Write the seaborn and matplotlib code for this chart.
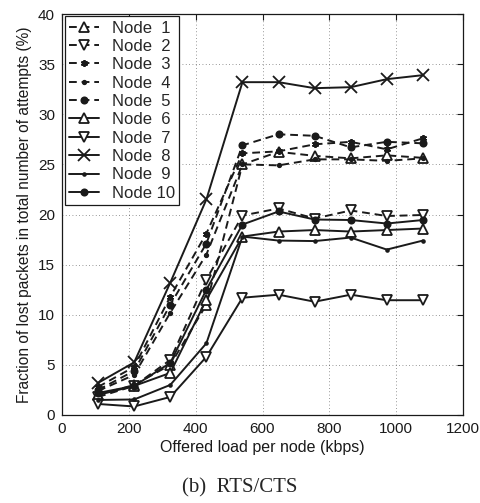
import matplotlib
matplotlib.use("Agg")
import matplotlib.pyplot as plt
import seaborn as sns
import pandas as pd

sns.set_theme(style="white")
plt.rcParams['font.family'] = ['Liberation Sans', 'DejaVu Sans']

load = [108, 216, 324, 432, 540, 648, 756, 864, 972, 1080]
node_names = ["Node  1", "Node  2", "Node  3", "Node  4", "Node  5",
              "Node  6", "Node  7", "Node  8", "Node  9", "Node 10"]
node1 = [2.0, 3.0, 5.0, 11.0, 25.0, 26.25, 25.85, 25.6, 25.9, 25.65]
node2 = [1.8, 2.9, 5.5, 13.5, 19.9, 20.6, 19.6, 20.4, 19.85, 19.95]
node3 = [2.8, 4.8, 11.8, 18.1, 26.1, 26.3, 27.0, 27.25, 26.5, 27.6]
node4 = [2.4, 4.0, 10.2, 16.0, 25.0, 24.9, 25.5, 25.5, 25.35, 25.6]
node5 = [2.5, 4.4, 11.0, 17.1, 26.9, 28.0, 27.85, 26.7, 27.25, 27.1]
node6 = [2.0, 2.9, 4.2, 11.5, 17.8, 18.3, 18.45, 18.3, 18.45, 18.6]
node7 = [1.1, 0.85, 1.8, 5.8, 11.7, 12.0, 11.3, 12.0, 11.45, 11.45]
node8 = [3.2, 5.25, 13.2, 21.5, 33.2, 33.2, 32.6, 32.7, 33.5, 33.9]
node9 = [1.5, 1.55, 3.0, 7.15, 17.8, 17.4, 17.35, 17.7, 16.5, 17.4]
node10 = [2.2, 2.9, 5.2, 12.5, 19.0, 20.3, 19.5, 19.45, 19.1, 19.45]
series = [node1, node2, node3, node4, node5, node6, node7, node8, node9, node10]

x_ticks = [0, 200, 400, 600, 800, 1000, 1200]
y_ticks = [0, 5, 10, 15, 20, 25, 30, 35, 40]

dash = (0, (4, 2.5))
styles = [
    dict(marker='^', ms=6.5, mfc='white', ls=dash),
    dict(marker='v', ms=6.5, mfc='white', ls=dash),
    dict(marker=(6, 2, 0), ms=5, mfc='k', ls=dash),
    dict(marker='.', ms=5, mfc='k', ls=dash),
    dict(marker='o', ms=4.5, mfc='k', ls=dash),
    dict(marker='^', ms=6.5, mfc='white', ls='-'),
    dict(marker='v', ms=6.5, mfc='white', ls='-'),
    dict(marker='x', ms=8, mfc='k', ls='-'),
    dict(marker='.', ms=4, mfc='k', ls='-'),
    dict(marker='o', ms=4.5, mfc='k', ls='-'),
]

fig = plt.figure(figsize=(4.8, 5.03), dpi=100)
ax = fig.add_axes([62/480, 1-415/503, (463-62)/480, (415-14)/503])

for name, vals, st in zip(node_names, series, styles):
    df = pd.DataFrame({"load": load, "loss": vals})
    sns.lineplot(data=df, x="load", y="loss", ax=ax, color='k', lw=1.4,
                 marker=st['marker'], markersize=st['ms'], markerfacecolor=st['mfc'],
                 markeredgecolor='k', markeredgewidth=1.3, linestyle=st['ls'],
                 label=name, legend=False)

ax.set_xlim(0, 1200)
ax.set_ylim(0, 40)
ax.set_xticks(x_ticks)
ax.set_yticks(y_ticks)
ax.tick_params(axis='both', direction='in', length=4, width=0.8, colors='k',
               labelsize=11, top=True, right=True, pad=5)
ax.grid(True, linestyle=(0, (1, 3)), color='k', linewidth=0.6, alpha=0.6)
for s in ax.spines.values():
    s.set_color('k')
    s.set_linewidth(0.9)

ax.set_xlabel("Offered load per node (kbps)", fontsize=11.5, color='k', labelpad=3)
ax.set_ylabel("Fraction of lost packets in total number of attempts (%)", fontsize=11.2,
              color='k', labelpad=4)

leg = ax.legend(loc='upper left', fontsize=12, frameon=True, fancybox=False,
                edgecolor='k', framealpha=1, handlelength=1.8, handletextpad=0.8,
                labelspacing=0.2, borderpad=0.25, borderaxespad=0.15)
leg.get_frame().set_linewidth(0.9)

fig.text(0.5, 0.03, "(b)  RTS/CTS", ha='center', va='center', fontsize=15,
         family=['Liberation Serif', 'DejaVu Serif'])

fig.savefig("out.png", dpi=100)
